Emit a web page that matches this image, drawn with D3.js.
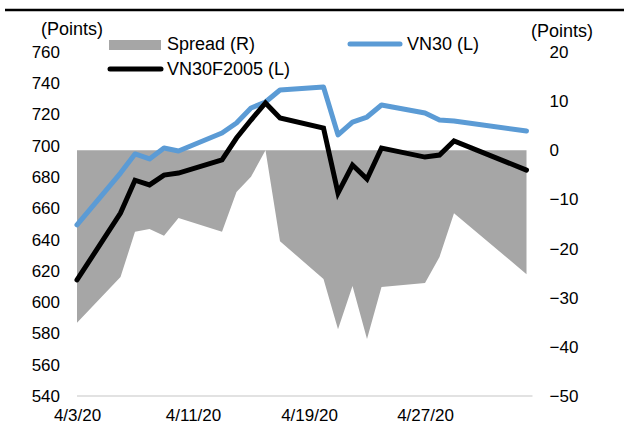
<!DOCTYPE html>
<html>
<head>
<meta charset="utf-8">
<script src="https://cdn.jsdelivr.net/npm/d3@7"></script>
<style>
  body { margin: 0; background: #fff; }
  svg text { font-family: "Liberation Sans", Arial, sans-serif; fill: #000; }
</style>
</head>
<body>
<svg id="chart" width="624" height="446"></svg>
<script>
// trading days (April/May 2020)
const dates = ["2020-04-03", "2020-04-06", "2020-04-07", "2020-04-08", "2020-04-09", "2020-04-10",
    "2020-04-13", "2020-04-14", "2020-04-15", "2020-04-16", "2020-04-17",
    "2020-04-20", "2020-04-21", "2020-04-22", "2020-04-23", "2020-04-24",
    "2020-04-27", "2020-04-28", "2020-04-29", "2020-05-04"];
const vn30 = [649.4, 682.6, 694.8, 691.6, 698.6, 696.7,
    708.2, 714.6, 724.2, 728.0, 735.7,
    737.6, 707.0, 715.2, 718.4, 726.1,
    721.0, 716.5, 715.9, 709.5];
const vn30f = [614.2, 657.0, 678.0, 675.0, 681.3, 682.6,
    691.0, 705.0, 716.5, 727.4, 717.8,
    711.4, 669.8, 687.7, 678.8, 698.6,
    692.8, 694.1, 703.1, 684.5];
const spread = [-35.1, -25.8, -16.6, -16.0, -17.4, -13.8,
    -16.6, -8.5, -5.4, 0, -18.5,
    -26.2, -36.4, -27.6, -38.4, -27.8,
    -27.0, -21.7, -12.8, -25.2];
const xTicks = ["2020-04-03", "2020-04-11", "2020-04-19", "2020-04-27"];
const leftTicks = [540, 560, 580, 600, 620, 640, 660, 680, 700, 720, 740, 760];
const rightTicks = [-50, -40, -30, -20, -10, 0, 10, 20];

const parse = d3.timeParse("%Y-%m-%d");
const data = dates.map((d, i) => ({
    date: parse(d), vn30: vn30[i], vn30f: vn30f[i], spread: spread[i]
}));

const margin = { top: 52, left: 77, right: 97.5, bottom: 50 };
const width = 624, height = 446;
const fontSize = 17;
const legendFont = 18;

const svg = d3.select("#chart");

// top rule
svg.append("line")
    .attr("x1", 5).attr("x2", width)
    .attr("y1", 10).attr("y2", 10)
    .attr("stroke", "#000").attr("stroke-width", 2.7);

const xScale = d3.scaleTime()
    .domain(d3.extent(data, d => d.date))
    .range([margin.left, width - margin.right]);
const yLeft = d3.scaleLinear().domain([540, 760]).range([height - margin.bottom, margin.top]);
const yRight = d3.scaleLinear().domain([-50, 20]).range([height - margin.bottom, margin.top]);

// spread area
svg.append("path")
    .datum(data)
    .attr("fill", "#a6a6a6")
    .attr("d", d3.area()
        .x(d => xScale(d.date))
        .y0(yRight(0))
        .y1(d => yRight(d.spread)));

// x axis line
svg.append("line")
    .attr("x1", xScale.range()[0]).attr("x2", xScale.range()[1] + 6)
    .attr("y1", yLeft(540)).attr("y2", yLeft(540))
    .attr("stroke", "#d9d9d9").attr("stroke-width", 1.5);

const xAxis = svg.append("g")
    .attr("transform", `translate(0, ${yLeft(540)})`)
    .call(d3.axisBottom(xScale)
        .tickValues(xTicks.map(parse))
        .tickFormat(d3.timeFormat("%-m/%-d/%y"))
        .tickSize(0).tickPadding(13));
xAxis.select(".domain").remove();
xAxis.selectAll("text").style("font-size", fontSize + "px").attr("font-family", null);

const leftAxis = svg.append("g")
    .attr("transform", `translate(${margin.left - 17}, 0)`)
    .call(d3.axisLeft(yLeft).tickValues(leftTicks).tickSize(0).tickPadding(0));
leftAxis.select(".domain").remove();
leftAxis.selectAll("text").style("font-size", fontSize + "px").attr("font-family", null);

const rightAxis = svg.append("g")
    .attr("transform", `translate(${width - margin.right + 23}, 0)`)
    .call(d3.axisRight(yRight).tickValues(rightTicks).tickSize(0).tickPadding(0));
rightAxis.select(".domain").remove();
rightAxis.selectAll("text").style("font-size", fontSize + "px").attr("font-family", null);

// unit labels
svg.append("text").attr("x", 72).attr("y", 30).attr("text-anchor", "middle")
    .attr("dominant-baseline", "middle").style("font-size", legendFont + "px").text("(Points)");
svg.append("text").attr("x", 562).attr("y", 32).attr("text-anchor", "middle")
    .attr("dominant-baseline", "middle").style("font-size", legendFont + "px").text("(Points)");

// lines
const lineOf = key => d3.line().x(d => xScale(d.date)).y(d => yLeft(d[key]));
svg.append("path").datum(data)
    .attr("fill", "none").attr("stroke", "#5b9bd5").attr("stroke-width", 5)
    .attr("stroke-linejoin", "round").attr("stroke-linecap", "round")
    .attr("d", lineOf("vn30"));
svg.append("path").datum(data)
    .attr("fill", "none").attr("stroke", "#000").attr("stroke-width", 5)
    .attr("stroke-linejoin", "miter").attr("stroke-linecap", "round")
    .attr("d", lineOf("vn30f"));

// legend
const legend = svg.append("g");
legend.append("rect").attr("x", 109).attr("y", 40).attr("width", 52).attr("height", 10).attr("fill", "#a6a6a6");
legend.append("text").attr("x", 167).attr("y", 45).attr("dominant-baseline", "middle")
    .style("font-size", legendFont + "px").text("Spread (R)");
legend.append("line").attr("x1", 350).attr("x2", 400).attr("y1", 44).attr("y2", 44)
    .attr("stroke", "#5b9bd5").attr("stroke-width", 5).attr("stroke-linecap", "round");
legend.append("text").attr("x", 407).attr("y", 45).attr("dominant-baseline", "middle")
    .style("font-size", legendFont + "px").text("VN30 (L)");
legend.append("line").attr("x1", 110).attr("x2", 161).attr("y1", 69).attr("y2", 69)
    .attr("stroke", "#000").attr("stroke-width", 5).attr("stroke-linecap", "round");
legend.append("text").attr("x", 167).attr("y", 70).attr("dominant-baseline", "middle")
    .style("font-size", legendFont + "px").text("VN30F2005 (L)");
</script>
</body>
</html>
